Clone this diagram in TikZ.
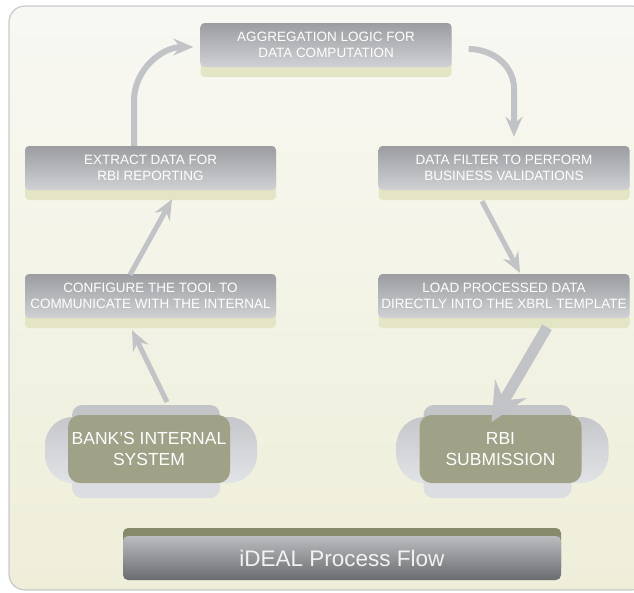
\documentclass[tikz,border=0pt]{standalone}
\usepackage{fontspec}
\setmainfont{Liberation Sans}
\usetikzlibrary{arrows.meta, backgrounds}

\definecolor{panelline}{HTML}{C9C9C9}
\definecolor{paneltop}{HTML}{F8F8F3}
\definecolor{panelbot}{HTML}{EEEED9}
\definecolor{boxtop}{HTML}{9C9DA1}
\definecolor{boxbot}{HTML}{D0D1D5}
\definecolor{boxstrip}{HTML}{E4E5C4}
\definecolor{capolive}{HTML}{9FA287}
\definecolor{stripolive}{HTML}{878A6B}
\definecolor{lobetop}{HTML}{C6C7CB}
\definecolor{lobebot}{HTML}{E2E3E6}
\definecolor{bartop}{HTML}{C3C4C8}
\definecolor{barbot}{HTML}{DCDDE0}
\definecolor{titletop}{HTML}{BBBCC0}
\definecolor{titlebot}{HTML}{6A6B6F}
\definecolor{flowgray}{HTML}{C2C3C7}

\begin{document}
\begin{tikzpicture}[x=1pt, y=1pt,
        panel/.style={draw=panelline, line width=1.2pt, rounded corners=16pt, top color=paneltop, bottom color=panelbot},
        stepbox/.style={rectangle, rounded corners=4pt, minimum width=251pt, minimum height=44pt, inner sep=0pt, align=center,
            top color=boxtop, bottom color=boxbot, text=white, font=\fontsize{13.5}{16.5}\selectfont,
            preaction={fill=boxstrip, transform canvas={yshift=-10pt}}},
        capsule/.style={rectangle, rounded corners=12pt, minimum width=162pt, minimum height=68pt, inner sep=0pt, align=center,
            fill=capolive, text=white, font=\fontsize{17.5}{20.5}\selectfont},
        lobe/.style={rounded corners=28pt, top color=lobetop, bottom color=lobebot},
        capbar/.style={rounded corners=10pt, fill=bartop},
        titlebar/.style={rectangle, rounded corners=5pt, minimum width=438pt, minimum height=44pt, inner sep=0pt,
            top color=titletop, bottom color=titlebot, text=white!95!black, font=\fontsize{22.5}{27}\selectfont,
            preaction={fill=stripolive, transform canvas={yshift=8pt}}},
        flow/.style={draw=flowgray, line width=5pt, -{Stealth[length=20pt, width=17pt, inset=7pt]}},
        bigflow/.style={draw=flowgray, line width=11pt, -{Stealth[length=38pt, width=36pt, inset=13pt]}}
    ]
        \useasboundingbox (0,0) rectangle (634,-592);

        \node[stepbox] (agg)       at (326,-45)    {AGGREGATION LOGIC FOR\\DATA COMPUTATION};
        \node[stepbox] (extract)   at (150.5,-168) {EXTRACT DATA FOR\\RBI REPORTING};
        \node[stepbox] (filter)    at (504,-168)   {DATA FILTER TO PERFORM\\BUSINESS VALIDATIONS};
        \node[stepbox] (configure) at (150.5,-296) {CONFIGURE THE TOOL TO\\COMMUNICATE WITH THE INTERNAL};
        \node[stepbox] (load)      at (504,-296)   {LOAD PROCESSED DATA\\DIRECTLY INTO THE XBRL TEMPLATE};
        \node[capsule] (bank)      at (149,-449)   {BANK’S INTERNAL\\SYSTEM};
        \node[capsule] (rbi)       at (500.5,-449) {RBI\\SUBMISSION};
        \node[titlebar] (title)    at (342,-558)   {iDEAL Process Flow};

        \begin{scope}[on background layer]
            \path[panel] (9,-6) rectangle (648,-590);
            \foreach \n in {bank, rbi} {
                \path[lobe] ([shift={(-104,-34)}]\n.center) rectangle ([shift={(108,32)}]\n.center);
                \path[capbar] ([shift={(-77,22)}]\n.center) rectangle ([shift={(71,44)}]\n.center);
                \path[capbar, fill=barbot] ([shift={(-77,-49)}]\n.center) rectangle ([shift={(71,-22)}]\n.center);
            }
        \end{scope}

        \draw[flow] ([shift={(18,47)}]bank.center) -- ([shift={(-18.5,-12)}]configure.south);
        \draw[flow] ([shift={(-20.5,-1)}]configure.north) -- ([shift={(21.5,-9)}]extract.south);
        \draw[flow, line width=6pt] ([xshift=-16.5pt]extract.north) -- ([shift={(-16.5,45)}]extract.north)
            to[out=90, in=180] ([shift={(-7,-2)}]agg.west);
        \draw[flow, line width=6pt] ([shift={(17,-4)}]agg.east) to[out=0, in=90] ([shift={(10,57)}]filter.north)
            -- ([shift={(10,9)}]filter.north);
        \draw[flow] ([shift={(-22,-11)}]filter.south) -- ([shift={(16,1)}]load.north);
        \draw[bigflow] ([shift={(43,-9)}]load.south) -- ([shift={(-9,27)}]rbi.center);
    \end{tikzpicture}
\end{document}
